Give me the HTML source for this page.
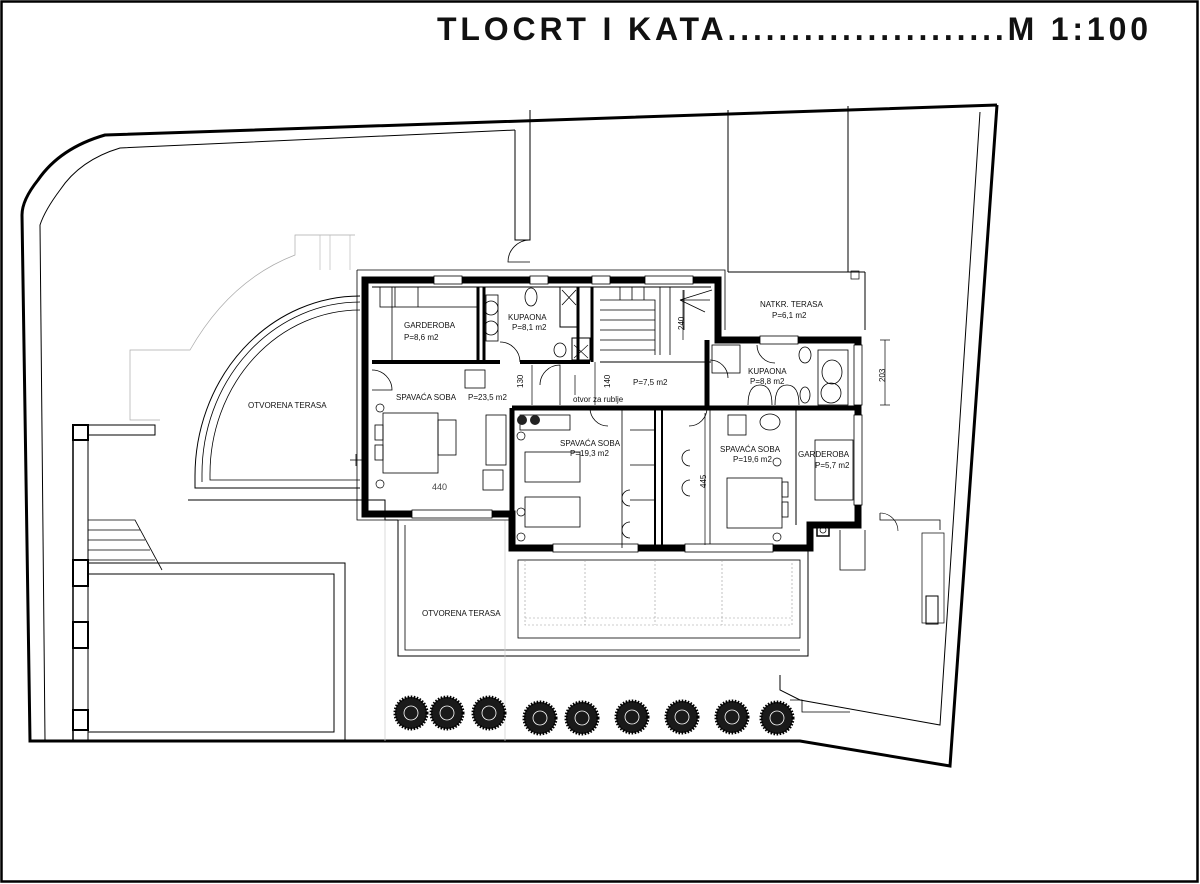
<!DOCTYPE html>
<html><head><meta charset="utf-8"><style>
html,body{margin:0;padding:0;background:#fff}
svg{display:block}
text{font-family:"Liberation Sans",sans-serif;fill:#111}
.t{font-size:8px}
</style></head><body>
<svg width="1200" height="884" viewBox="0 0 1200 884" xmlns="http://www.w3.org/2000/svg">
<rect width="1200" height="884" fill="#fff"/>
<rect x="1.5" y="1.5" width="1196" height="880" fill="none" stroke="#000" stroke-width="2.5"/>
<text x="437" y="40" textLength="711" lengthAdjust="spacing" style="font-size:32px;font-weight:bold">TLOCRT  I KATA......................M 1:100</text>

<path d="M997,105 L105,135 Q60,148 38,180 Q22,200 22,215 L30,741 L800,741 L950,766 L997,105" fill="none" stroke="#000" stroke-width="3"/>
<path d="M980,112 L940,725 L800,700 L780,690 L780,675" fill="none" stroke="#000" stroke-width="1"/>
<path d="M515,130 L120,148 Q80,160 60,190 Q45,210 40,225 L45,740" fill="none" stroke="#000" stroke-width="1"/>
<path d="M515,130 L515,240 L530,240 L530,110" fill="none" stroke="#000" stroke-width="1"/>
<line x1="728" y1="110" x2="728" y2="272" stroke="#000" stroke-width="1"/>
<line x1="848" y1="106" x2="848" y2="272" stroke="#000" stroke-width="1"/>
<line x1="728" y1="272" x2="865" y2="272" stroke="#000" stroke-width="1"/>
<line x1="865" y1="272" x2="865" y2="330" stroke="#000" stroke-width="1"/>
<path d="M530,240 A22,22 0 0 0 508,262 L530,262" fill="none" stroke="#000" stroke-width="0.8"/>

<path d="M355,235 L295,235 L295,255 Q230,280 190,350 L130,350 L130,420 L160,420" fill="none" stroke="#aaa" stroke-width="0.7"/>
<path d="M350,235 L350,270 M330,235 L330,270 M320,235 L320,270" stroke="#bbb" stroke-width="0.7"/>

<path d="M360,296 A165,180 0 0 0 195,476 L195,488 L360,488" fill="none" stroke="#000" stroke-width="1"/>
<path d="M360,302 A158,172 0 0 0 202,474 L202,482" fill="none" stroke="#000" stroke-width="0.8"/>
<path d="M360,310 A150,164 0 0 0 210,474 L210,480 L360,480" fill="none" stroke="#000" stroke-width="0.8"/>
<path d="M188,500 L385,500 L385,520 L398,520" fill="none" stroke="#000" stroke-width="1"/>

<path d="M75,425 L155,425 L155,435 L88,435" fill="none" stroke="#000" stroke-width="1"/>
<rect x="73" y="425" width="15" height="15" fill="none" stroke="#000" stroke-width="2"/>
<line x1="73" y1="440" x2="73" y2="740" stroke="#000" stroke-width="1.5"/>
<line x1="88" y1="440" x2="88" y2="740" stroke="#000" stroke-width="1"/>
<rect x="73" y="560" width="15" height="26" fill="none" stroke="#000" stroke-width="2"/>
<rect x="73" y="622" width="15" height="26" fill="none" stroke="#000" stroke-width="2"/>
<rect x="73" y="710" width="15" height="20" fill="none" stroke="#000" stroke-width="2"/>
<path d="M88,520 L135,520 L162,570 M88,530 L140,530 M88,540 L145,540 M88,550 L150,550 M88,560 L155,560" fill="none" stroke="#000" stroke-width="0.8"/>
<rect x="88" y="574" width="246" height="158" fill="none" stroke="#000" stroke-width="1"/>
<path d="M88,563 L345,563 L345,741" fill="none" stroke="#000" stroke-width="1"/>

<path d="M398,520 L398,656 L808,656 L808,548" fill="none" stroke="#000" stroke-width="1"/>
<path d="M405,525 L405,650 L800,650" fill="none" stroke="#000" stroke-width="0.8"/>
<rect x="518" y="560" width="282" height="78" fill="none" stroke="#000" stroke-width="0.8"/>
<path d="M525,560 L525,625 L792,625 L792,560 M585,560 L585,625 M655,560 L655,625 M722,560 L722,625 M525,618 L792,618" fill="none" stroke="#999" stroke-width="0.6" stroke-dasharray="2,2"/>
<text x="422" y="616" class="t">OTVORENA TERASA</text>
<line x1="385" y1="520" x2="385" y2="741" stroke="#ccc" stroke-width="0.7"/>
<line x1="505" y1="520" x2="505" y2="741" stroke="#ccc" stroke-width="0.7"/>

<path d="M840,530 L840,570 L865,570 L865,530 M880,513 L880,520 L940,520 L940,530" fill="none" stroke="#000" stroke-width="0.8"/>
<path d="M880,513 A18,18 0 0 1 898,531" fill="none" stroke="#000" stroke-width="0.6"/>
<rect x="926" y="596" width="12" height="28" fill="none" stroke="#000" stroke-width="1"/>
<rect x="922" y="533" width="22" height="90" fill="none" stroke="#000" stroke-width="0.7"/>

<path d="M357,270 L725,270 L725,330 M357,270 L357,520 L510,520" fill="none" stroke="#000" stroke-width="0.8"/>

<g fill="none" stroke="#000">
<path d="M365,280 L718,280 L718,340 L858,340 L858,525 L810,525 L810,548 L512,548 L512,514 L365,514 Z" stroke-width="7"/>
<path d="M372,287 L711,287" stroke-width="1"/>
<path d="M478,287 L478,362 M484,287 L484,362" stroke-width="3"/>
<path d="M372,362 L500,362 M520,362 L590,362" stroke-width="4"/>
<path d="M578,287 L578,362 M592,287 L592,362" stroke-width="3"/>
<path d="M512,408 L858,408" stroke-width="5"/>
<path d="M512,408 L512,514" stroke-width="5"/>
<path d="M655,408 L655,548 M662,408 L662,548" stroke-width="2"/>
<path d="M707,340 L707,408" stroke-width="5"/>
<path d="M600,362 L711,362 M593,287 L593,362" stroke-width="1"/>
<path d="M710,408 L710,548" stroke-width="0.8"/>
<path d="M796,408 L796,525" stroke-width="1"/>
</g>
<g fill="#fff" stroke="#000" stroke-width="0.8">
<rect x="434" y="276" width="28" height="8"/><rect x="530" y="276" width="18" height="8"/>
<rect x="592" y="276" width="18" height="8"/><rect x="645" y="276" width="48" height="8"/>
<rect x="412" y="510" width="80" height="8"/>
<rect x="553" y="544" width="85" height="8"/><rect x="685" y="544" width="88" height="8"/>
<rect x="760" y="336" width="38" height="8"/>
<rect x="854" y="345" width="8" height="60"/>
<rect x="854" y="415" width="8" height="90"/>
</g>

<g stroke="#000" stroke-width="0.8" fill="none">
<path d="M600,300 L655,300 L655,355 M600,310 L655,310 M600,320 L655,320 M600,330 L655,330 M600,340 L655,340 M600,350 L655,350"/>
<path d="M620,287 L620,300 M632,287 L632,300 M644,287 L644,300 M660,287 L660,355 M670,287 L670,355"/>
<path d="M680,300 L712,290 M680,300 L710,300 M680,300 L705,312"/>
<line x1="684" y1="290" x2="684" y2="330"/>
</g>
<rect x="560" y="287" width="18" height="40" fill="none" stroke="#000" stroke-width="1"/>
<path d="M562,290 L576,305 M576,290 L562,305" stroke="#000" stroke-width="0.8"/>
<rect x="572" y="338" width="18" height="22" fill="none" stroke="#000" stroke-width="1"/>
<path d="M574,345 L588,358 M588,345 L574,358" stroke="#000" stroke-width="0.6"/>

<g fill="none" stroke="#000" stroke-width="0.8">
<ellipse cx="531" cy="297" rx="6" ry="9"/>
<circle cx="491" cy="308" r="7"/><circle cx="491" cy="328" r="7"/>
<rect x="486" y="295" width="12" height="46"/>
<ellipse cx="560" cy="350" rx="6" ry="7"/>
<ellipse cx="805" cy="355" rx="6" ry="8"/>
<rect x="818" y="350" width="30" height="55"/><ellipse cx="832" cy="372" rx="10" ry="12"/><circle cx="831" cy="393" r="10"/>
<path d="M748,405 Q748,385 760,385 Q772,385 772,405 M775,405 Q775,385 787,385 Q799,385 799,405"/>
<ellipse cx="805" cy="395" rx="5" ry="8"/>
<rect x="712" y="345" width="28" height="28"/>
<rect x="380" y="287" width="98" height="20"/>
<line x1="395" y1="287" x2="395" y2="307"/><line x1="418" y1="287" x2="418" y2="307"/>
<line x1="392" y1="287" x2="392" y2="362"/>
<rect x="383" y="413" width="55" height="60"/><rect x="375" y="425" width="8" height="15"/><rect x="375" y="445" width="8" height="15"/>
<rect x="438" y="420" width="18" height="35"/>
<rect x="525" y="452" width="55" height="30"/><rect x="525" y="497" width="55" height="30"/>
<rect x="727" y="478" width="55" height="50"/><rect x="782" y="482" width="6" height="15"/><rect x="782" y="502" width="6" height="15"/>
<rect x="465" y="370" width="20" height="18"/>
<rect x="483" y="470" width="20" height="20"/>
<rect x="486" y="415" width="20" height="50"/>
<rect x="728" y="415" width="18" height="20"/><ellipse cx="770" cy="422" rx="10" ry="8"/>
<rect x="815" y="440" width="38" height="60"/>
<rect x="520" y="415" width="50" height="15"/>
<path d="M622,408 L622,548 M630,430 L655,430 M630,465 L655,465 M630,500 L655,500"/>
<path d="M690,450 A8,8 0 0 0 690,466 M690,480 A8,8 0 0 0 690,496 M630,490 A8,8 0 0 0 630,506 M630,522 A8,8 0 0 0 630,538"/>
<path d="M372,370 A20,20 0 0 1 392,390 L372,390"/>
<path d="M520,362 A20,20 0 0 0 500,342"/>
<path d="M540,385 A20,20 0 0 1 560,365 L560,405"/>
<path d="M710,360 A18,18 0 0 1 728,378"/>
<path d="M757,345 A18,18 0 0 0 775,363"/>
<path d="M590,408 A18,18 0 0 0 608,426"/>
<path d="M707,408 A18,18 0 0 1 689,426"/>
</g>
<g fill="#222"><circle cx="522" cy="420" r="5"/><circle cx="535" cy="420" r="5"/></g>
<g fill="none" stroke="#000" stroke-width="0.7">
<circle cx="380" cy="408" r="4"/><circle cx="380" cy="484" r="4"/><circle cx="521" cy="436" r="4"/><circle cx="521" cy="512" r="4"/><circle cx="521" cy="537" r="4"/><circle cx="777" cy="462" r="4"/><circle cx="777" cy="537" r="4"/>
<rect x="817" y="524" width="12" height="12" stroke-width="1.5"/><circle cx="823" cy="530" r="3"/>
<rect x="851" y="271" width="8" height="8"/>
</g>
<path d="M350,460 L362,460 M356,454 L356,466" stroke="#000" stroke-width="0.8"/>
<g stroke="#000" stroke-width="0.7">
<line x1="532" y1="365" x2="532" y2="405"/><line x1="595" y1="362" x2="595" y2="405"/>
<line x1="683" y1="290" x2="683" y2="340"/><line x1="705" y1="413" x2="705" y2="545"/>
<line x1="885" y1="340" x2="885" y2="405"/><line x1="880" y1="340" x2="890" y2="340"/><line x1="880" y1="405" x2="890" y2="405"/>
<line x1="575" y1="395" x2="575" y2="375"/>
</g>

<g class="t">
<text x="404" y="328">GARDEROBA</text><text x="404" y="340">P=8,6 m2</text>
<text x="508" y="320">KUPAONA</text><text x="512" y="330">P=8,1 m2</text>
<text x="396" y="400">SPAVAĆA SOBA</text><text x="468" y="400">P=23,5 m2</text>
<text x="633" y="385">P=7,5 m2</text><text x="573" y="402">otvor za rublje</text>
<text x="560" y="446">SPAVAĆA SOBA</text><text x="570" y="456">P=19,3 m2</text>
<text x="720" y="452">SPAVAĆA SOBA</text><text x="733" y="462">P=19,6 m2</text>
<text x="798" y="457">GARDEROBA</text><text x="815" y="468">P=5,7 m2</text>
<text x="748" y="374">KUPAONA</text><text x="750" y="384">P=8,8 m2</text>
<text x="760" y="307">NATKR. TERASA</text><text x="772" y="318">P=6,1 m2</text>
<text x="248" y="408">OTVORENA TERASA</text>
<text x="432" y="490" style="font-size:9px;fill:#444">440</text>
<text transform="translate(523,388) rotate(-90)">130</text>
<text transform="translate(610,388) rotate(-90)">140</text>
<text transform="translate(684,330) rotate(-90)">240</text>
<text transform="translate(706,488) rotate(-90)">445</text>
<text transform="translate(885,382) rotate(-90)">203</text>
</g>

<g fill="#1a1a1a" stroke="#000" stroke-width="3" stroke-dasharray="1.5,1.5">
<circle cx="411" cy="713" r="16"/><circle cx="447" cy="713" r="16"/><circle cx="489" cy="713" r="16"/>
<circle cx="540" cy="718" r="16"/><circle cx="582" cy="718" r="16"/><circle cx="632" cy="717" r="16"/>
<circle cx="682" cy="717" r="16"/><circle cx="732" cy="717" r="16"/><circle cx="777" cy="718" r="16"/>
</g>
<g fill="none" stroke="#fff" stroke-width="0.8">
<circle cx="411" cy="713" r="7"/><circle cx="447" cy="713" r="7"/><circle cx="489" cy="713" r="7"/>
<circle cx="540" cy="718" r="7"/><circle cx="582" cy="718" r="7"/><circle cx="632" cy="717" r="7"/>
<circle cx="682" cy="717" r="7"/><circle cx="732" cy="717" r="7"/><circle cx="777" cy="718" r="7"/>
</g>
<path d="M790,700 L802,700 L802,712 L850,712" fill="none" stroke="#000" stroke-width="0.8"/>
</svg>
</body></html>
